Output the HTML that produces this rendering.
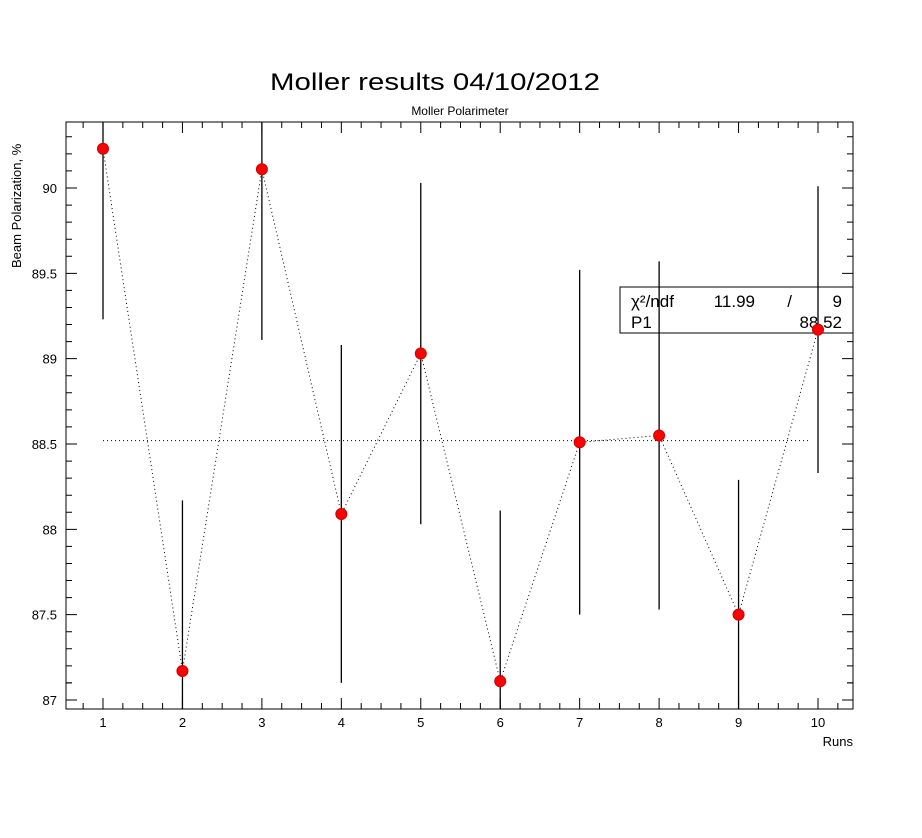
<!DOCTYPE html>
<html><head><meta charset="utf-8"><style>
body{margin:0;background:#fff}
svg text{font-family:"Liberation Sans","DejaVu Sans",sans-serif;fill:#000}
</style></head><body>
<svg id="c" width="922" height="833" xmlns="http://www.w3.org/2000/svg">
<rect width="922" height="833" fill="#fff"/>
<text x="435" y="90" font-size="24" text-anchor="middle" font-weight="300" textLength="330" lengthAdjust="spacingAndGlyphs">Moller results 04/10/2012</text>
<text x="460" y="115" font-size="12" text-anchor="middle">Moller Polarimeter</text>
<text transform="translate(21,268) rotate(-90)" font-size="13" text-anchor="start">Beam Polarization, %</text>
<text x="853" y="746" font-size="13" text-anchor="end">Runs</text>
<g id="plot"></g>
</svg>
<script>
const runs=[1,2,3,4,5,6,7,8,9,10];
const pol=[90.23,87.17,90.11,88.09,89.03,87.11,88.51,88.55,87.50,89.17];
const errs=[1.0,1.0,1.0,0.99,1.0,1.0,1.01,1.02,0.79,0.84];
const fitValue=88.52;
const yTicks=["87","87.5","88","88.5","89","89.5","90"];
const X0=66,X1=853,Y0=122,Y1=709;
const xs=v=>103+(v-1)*(818-103)/9;
const ys=v=>700-(v-87)*(700-188)/3;
const ns="http://www.w3.org/2000/svg";
const g=document.getElementById('plot');
function mk(t,a){const e=document.createElementNS(ns,t);for(const k in a)e.setAttribute(k,a[k]);g.appendChild(e);return e;}
const frame=mk('rect',{x:X0,y:Y0,width:X1-X0,height:Y1-Y0,fill:'none',stroke:'#000','stroke-width':1});


for(let v=86.95;v<=90.8;v+=0.1){const y=ys(Math.round(v*10)/10);if(y<Y0||y>Y1)continue;
 const maj=Math.abs(Math.round(v*10)%5)===0;const L=maj?11:6;
 const t=mk('path',{d:`M${X0} ${y}h${L}M${X1} ${y}h${-L}`,stroke:'#000'});
 
 }
yTicks.forEach(s=>{const t=mk('text',{x:X0-9,y:ys(+s)+5,'font-size':13,'text-anchor':'end'});t.textContent=s;
 
 });
for(let v=0.5;v<=10.5;v+=0.25){const x=xs(v);if(x<=X0||x>=X1)continue;const maj=Math.abs(v-Math.round(v))<1e-6;const L=maj?11:6;
 const t=mk('path',{d:`M${x} ${Y1}v${-L}M${x} ${Y0}v${L}`,stroke:'#000'});
 
 }
runs.forEach(r=>{const t=mk('text',{x:xs(r),y:727,'font-size':13,'text-anchor':'middle'});t.textContent=r;
 
 });
const f=mk('line',{x1:xs(1),x2:xs(10)-8,y1:ys(fitValue),y2:ys(fitValue),stroke:'#000','stroke-dasharray':'1 3'});


const pl=mk('polyline',{points:runs.map((r,i)=>xs(r)+','+ys(pol[i])).join(' '),fill:'none',stroke:'#000','stroke-dasharray':'1 3'});


const sb=mk('rect',{x:620,y:287,width:X1-620,height:46,fill:'#fff',stroke:'#000'});


[[631,307,'χ²/ndf','start'],[755,307,'11.99','end'],[792,307,'/','end'],[842,307,'9','end'],[631,328,'P1','start'],[842,328,'88.52','end']].forEach(a=>{
 const t=mk('text',{x:a[0],y:a[1],'font-size':17,'text-anchor':a[3]});t.textContent=a[2];
 
 });
runs.forEach((r,i)=>{const yt=Math.max(Y0,ys(pol[i]+errs[i])),yb=Math.min(Y1,ys(pol[i]-errs[i]));
 const e=mk('line',{x1:xs(r),x2:xs(r),y1:yt,y2:yb,stroke:'#000','stroke-width':1.3});
 
 });
runs.forEach((r,i)=>{const p=mk('circle',{cx:xs(r),cy:ys(pol[i]),r:5.5,fill:'#f00',stroke:'#c00'});
 
 });
</script>
</body></html>
